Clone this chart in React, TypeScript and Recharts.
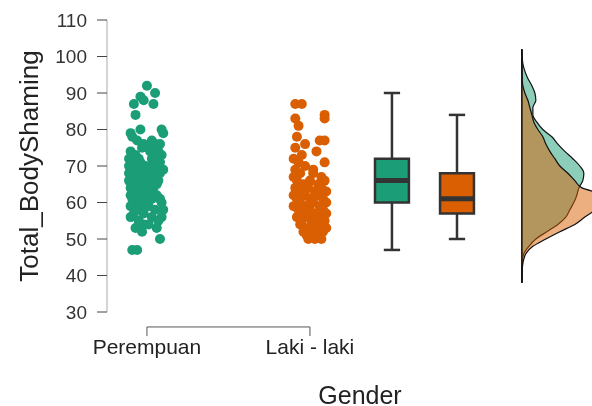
import React from 'react';
import { ComposedChart, XAxis, YAxis, Scatter, Area, ReferenceArea, ReferenceLine } from 'recharts';

const groups = ['Perempuan', 'Laki - laki'];
const groupColors = ['#1b9e77', '#d95f02'];
const yTicks = [30, 40, 50, 60, 70, 80, 90, 100, 110];

// raw scores and the horizontal jitter they were drawn with
const perempuanScores = [
  92, 90, 89, 88, 87, 87, 84, 80, 80, 79, 79, 78, 77, 77, 76, 76, 76, 75, 75, 75,
  74, 74, 74, 73, 73, 73, 72, 72, 72, 72, 71, 71, 71, 71, 70, 70, 70, 70, 70, 69,
  69, 69, 69, 69, 68, 68, 68, 68, 68, 67, 67, 67, 67, 66, 66, 66, 66, 66, 65, 65,
  65, 65, 64, 64, 64, 64, 63, 63, 63, 62, 62, 62, 62, 61, 61, 61, 61, 60, 60, 60,
  59, 59, 59, 58, 58, 58, 57, 57, 56, 56, 56, 55, 55, 54, 54, 53, 53, 52, 50, 47, 47,
];
const perempuanJitter = [
  0.0, 0.05, -0.04, -0.02, -0.08, 0.04, -0.07, -0.04, 0.09, -0.1, 0.1, -0.09, -0.06, 0.03, -0.02, 0.05, 0.08, -0.03, 0.01, 0.06,
  -0.1, 0.02, 0.07, -0.07, 0.04, 0.09, -0.11, -0.05, 0.03, 0.06, -0.09, -0.04, 0.05, 0.08, -0.11, -0.06, -0.01, 0.03, 0.07, -0.1,
  -0.04, 0.02, 0.06, 0.1, -0.11, -0.07, -0.02, 0.04, 0.08, -0.09, -0.05, 0.0, 0.05, -0.11, -0.06, -0.02, 0.03, 0.07, -0.09, -0.04,
  0.01, 0.06, -0.1, -0.06, -0.01, 0.04, -0.08, -0.03, 0.02, -0.1, -0.05, 0.0, 0.06, -0.09, -0.03, 0.03, 0.08, -0.07, -0.02, 0.09,
  -0.1, -0.04, 0.01, -0.06, 0.05, 0.1, -0.08, -0.02, -0.1, 0.03, 0.09, -0.05, 0.07, -0.02, 0.01, -0.07, 0.06, -0.03, 0.08, -0.09, -0.06,
];
const lakiScores = [
  87, 87, 84, 83, 83, 81, 78, 77, 77, 76, 75, 74, 73, 72, 71, 71, 70, 69, 69, 68,
  68, 67, 67, 66, 66, 66, 65, 65, 64, 64, 64, 63, 63, 63, 62, 62, 62, 61, 61, 61,
  60, 60, 60, 59, 59, 59, 58, 58, 58, 57, 57, 57, 56, 56, 56, 55, 55, 55, 54, 54,
  54, 53, 53, 53, 52, 52, 52, 51, 51, 50, 50, 50,
];
const lakiJitter = [
  -0.09, -0.05, 0.09, 0.09, -0.09, -0.07, -0.08, 0.06, 0.09, -0.03, -0.09, 0.04, -0.05, -0.1, 0.09, -0.07, -0.03, -0.09, 0.02, 0.02,
  -0.06, 0.07, -0.1, -0.08, 0.09, 0.0, -0.04, 0.05, -0.09, -0.01, 0.07, -0.06, 0.03, 0.1, -0.1, -0.03, 0.05, -0.08, 0.0, 0.08,
  -0.06, 0.02, 0.1, -0.1, -0.03, 0.06, -0.07, 0.0, 0.08, -0.04, 0.04, 0.1, -0.08, -0.01, 0.06, -0.05, 0.02, 0.09, -0.06, 0.01,
  0.07, -0.03, 0.04, 0.1, -0.04, 0.02, 0.08, -0.02, 0.05, -0.01, 0.03, 0.07,
];

// boxplot stats: min, q1, median, q3, max
const perempuanBox = [47, 60, 66, 72, 90];
const lakiBox = [50, 57, 61, 68, 84];

// half-violin densities (relative), read at each score on the grid
const densityGrid = [
  38, 40, 42, 44, 46, 48, 50, 52, 54, 56, 58, 60, 62, 64, 66, 68, 70,
  72, 74, 76, 78, 80, 82, 84, 86, 88, 90, 92, 94, 96, 98, 100, 102,
];
const perempuanDensity = [
  0, 0.001, 0.002, 0.005, 0.02, 0.07, 0.14, 0.25, 0.36, 0.44, 0.48, 0.52, 0.55, 0.57, 0.61, 0.62, 0.58,
  0.51, 0.43, 0.36, 0.3, 0.21, 0.15, 0.11, 0.11, 0.14, 0.13, 0.1, 0.06, 0.03, 0.01, 0.003, 0,
];
const lakiDensity = [
  0, 0.002, 0.005, 0.015, 0.04, 0.11, 0.24, 0.38, 0.53, 0.63, 0.74, 0.85, 0.82, 0.6, 0.53, 0.46, 0.38,
  0.33, 0.28, 0.24, 0.21, 0.16, 0.12, 0.1, 0.08, 0.06, 0.03, 0.01, 0.003, 0.001, 0, 0, 0,
];

// x positions (in category units)
const X_DOMAIN: [number, number] = [0.755, 3.859];
const BOX_X = [2.503, 2.902];
const BOX_HALF = 0.104;
const CAP_HALF = 0.05;
const DENS_BASE = 3.3;
const DENS_WIDTH = 0.613;
const BRACKET_V = 25.9;
const BRACKET_TICK_V = 23.4;

const densityData = densityGrid.map((v, i) => ({ v, g: perempuanDensity[i], o: lakiDensity[i] }));
const perempuanPoints = perempuanScores.map((v, i) => ({ x: 1 + perempuanJitter[i], v }));
const lakiPoints = lakiScores.map((v, i) => ({ x: 2 + lakiJitter[i], v }));

const dot = (color: string) => (p: any) => <circle cx={p.cx} cy={p.cy} r={5} fill={color} />;

const CategoryTick = ({ x, y, payload }: any) => (
  <text x={x} y={y + 34} textAnchor="middle" fontSize={21} fill="#222">
    {groups[payload.value - 1]}
  </text>
);

function BoxPlot({ x, stats, color }: { x: number; stats: number[]; color: string }) {
  const [min, q1, med, q3, max] = stats;
  const line = { stroke: '#333', strokeWidth: 2.5, ifOverflow: 'visible' as const };
  return (
    <>
      <ReferenceLine segment={[{ x, y: max }, { x, y: q3 }]} {...line} />
      <ReferenceLine segment={[{ x, y: q1 }, { x, y: min }]} {...line} />
      <ReferenceLine segment={[{ x: x - CAP_HALF, y: max }, { x: x + CAP_HALF, y: max }]} {...line} />
      <ReferenceLine segment={[{ x: x - CAP_HALF, y: min }, { x: x + CAP_HALF, y: min }]} {...line} />
      <ReferenceArea x1={x - BOX_HALF} x2={x + BOX_HALF} y1={q1} y2={q3} fill={color} fillOpacity={1} stroke="#333" strokeWidth={2.5} ifOverflow="visible" />
      <ReferenceLine segment={[{ x: x - BOX_HALF, y: med }, { x: x + BOX_HALF, y: med }]} stroke="#333" strokeWidth={5} ifOverflow="visible" />
    </>
  );
}

export default function App() {
  return (
    <div style={{ position: 'fixed', top: 8, left: 8, width: 584, height: 398, overflow: 'hidden' }}>
      <ComposedChart
        width={615}
        height={398}
        layout="vertical"
        data={densityData}
        margin={{ top: 12, right: 10, bottom: 0, left: 0 }}
        style={{ fontFamily: 'Liberation Sans, Arial, sans-serif' }}
      >
        <XAxis
          type="number"
          dataKey="x"
          domain={X_DOMAIN}
          allowDataOverflow
          ticks={[1, 2]}
          tick={<CategoryTick />}
          tickLine={false}
          axisLine={false}
          height={94}
          label={{
            content: ({ viewBox }: any) => (
              <text x={viewBox.x + viewBox.width / 2} y={396} textAnchor="middle" fontSize={25} fill="#222">
                Gender
              </text>
            ),
          }}
        />
        <YAxis
          type="number"
          dataKey="v"
          domain={[30, 110]}
          reversed
          allowDataOverflow
          ticks={yTicks}
          width={99}
          tickSize={10}
          tickMargin={10}
          tick={{ fontSize: 19, fill: '#333' }}
          tickLine={{ stroke: '#444' }}
          axisLine={{ stroke: '#aaa' }}
          label={{
            content: ({ viewBox }: any) => {
              const cy = viewBox.y + viewBox.height / 2;
              return (
                <text x={21} y={cy} transform={`rotate(-90 21 ${cy})`} textAnchor="middle" dominantBaseline="central" fontSize={26} fill="#222">
                  Total_BodyShaming
                </text>
              );
            },
          }}
        />
        <Area
          type="monotone"
          dataKey={(d: any) => [DENS_BASE, DENS_BASE + d.g * DENS_WIDTH]}
          fill={groupColors[0]}
          fillOpacity={0.5}
          stroke="#111"
          strokeWidth={1.2}
          isAnimationActive={false}
        />
        <Area
          type="monotone"
          dataKey={(d: any) => [DENS_BASE, DENS_BASE + d.o * DENS_WIDTH]}
          fill={groupColors[1]}
          fillOpacity={0.5}
          stroke="#111"
          strokeWidth={1.2}
          isAnimationActive={false}
        />
        <Scatter data={perempuanPoints} shape={dot(groupColors[0])} isAnimationActive={false} />
        <Scatter data={lakiPoints} shape={dot(groupColors[1])} isAnimationActive={false} />
        <BoxPlot x={BOX_X[0]} stats={perempuanBox} color={groupColors[0]} />
        <BoxPlot x={BOX_X[1]} stats={lakiBox} color={groupColors[1]} />
        <ReferenceLine segment={[{ x: 1, y: BRACKET_V }, { x: 2, y: BRACKET_V }]} stroke="#555" ifOverflow="visible" />
        <ReferenceLine segment={[{ x: 1, y: BRACKET_V }, { x: 1, y: BRACKET_TICK_V }]} stroke="#555" ifOverflow="visible" />
        <ReferenceLine segment={[{ x: 2, y: BRACKET_V }, { x: 2, y: BRACKET_TICK_V }]} stroke="#555" ifOverflow="visible" />
      </ComposedChart>
    </div>
  );
}
